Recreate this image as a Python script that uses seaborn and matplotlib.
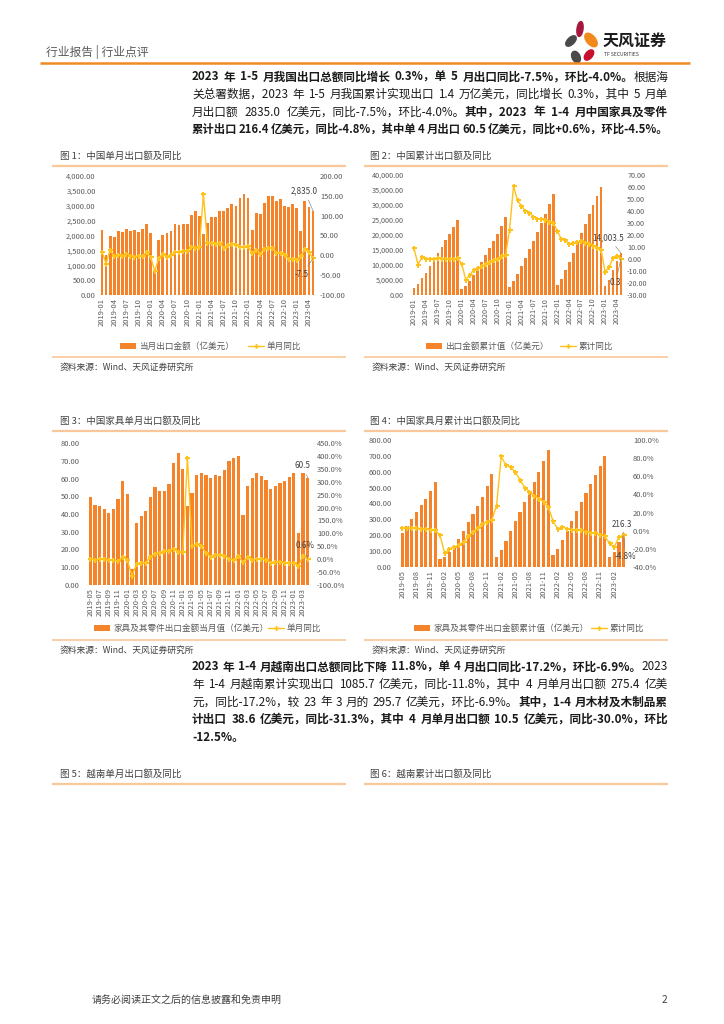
import numpy as np
import pandas as pd
import matplotlib
matplotlib.use("Agg")
import matplotlib.pyplot as plt
import seaborn as sns
from matplotlib.patches import Rectangle, Ellipse

sns.set_style("white")
plt.rcParams['font.family'] = ['Noto Sans CJK SC', 'DejaVu Sans']
plt.rcParams['axes.unicode_minus'] = False

W, H = 724, 1024
BAR = '#F4832A'
LINE = '#FFC21A'
TXT = '#404040'
TICK = '#595959'

# ---------------- data ----------------
cn_months = [f'{y}-{m:02d}' for y in range(2019, 2024) for m in range(1, 13)][:53]

cn_month_export = [2175, 1354, 1986, 1934, 2138, 2128, 2215, 2148, 2181, 2129, 2217, 2376,
                   2083, 809, 1851, 2003, 2068, 2135, 2375, 2353, 2393, 2371, 2680, 2819,
                   2640, 2054, 2410, 2636, 2636, 2814, 2819, 2940, 3057, 3001, 3249, 3404,
                   3260, 2170, 2759, 2736, 3083, 3311, 3329, 3149, 3229, 2983, 2962, 3061,
                   2914, 2149, 3155, 2954, 2835]
cn_month_yoy = [9.1, -20.7, 14.2, -2.7, 1.1, -1.3, 3.3, -1.0, -3.2, -0.9, -1.1, 7.6,
                -4.2, -40.2, -6.6, 3.5, -3.3, 0.5, 7.2, 9.5, 9.9, 11.4, 21.1, 18.1,
                21.4, 154.1, 30.6, 32.3, 27.9, 32.2, 19.3, 25.6, 28.1, 27.1, 22.0, 20.9,
                23.5, 6.2, 14.7, 3.9, 16.9, 17.9, 18.0, 7.1, 5.7, -0.3, -8.7, -9.9,
                -10.6, -1.3, 14.8, 8.5, -7.5]

cn_cum_export = [2175, 3529, 5515, 7449, 9587, 11715, 13930, 16078, 18259, 20388, 22605, 24981,
                 2083, 2892, 4743, 6746, 8814, 10949, 13324, 15677, 18070, 20441, 23121, 25900,
                 2640, 4694, 7104, 9740, 12376, 15190, 18009, 20949, 24006, 27007, 30256, 33660,
                 3260, 5430, 8189, 10925, 14008, 17319, 20648, 23797, 27026, 30009, 32971, 35936,
                 2914, 5063, 8218, 11172, 14003.5]
cn_cum_yoy = [9.1, -4.6, 1.4, 0.2, 0.4, 0.1, 0.6, 0.4, -0.1, -0.2, -0.3, 0.5,
              -4.2, -17.2, -13.4, -9.0, -7.7, -6.2, -4.1, -2.3, -0.8, 0.3, 2.5, 3.6,
              24.2, 60.6, 49.0, 44.0, 40.2, 38.6, 35.2, 33.7, 33.0, 32.3, 31.1, 29.9,
              23.6, 16.4, 15.8, 12.5, 13.2, 14.2, 14.6, 13.5, 12.5, 11.1, 9.0, 7.5,
              -10.6, -6.9, 1.1, 2.5, 0.3]

fur_months = [f'{y}-{m:02d}' for y in range(2019, 2024) for m in range(1, 13)][4:52]

fur_month = [49.5, 45.2, 44.6, 42.9, 40.7, 42.6, 48.6, 58.4,
             51.4, 9.0, 34.7, 39.0, 41.8, 49.5, 55.4, 53.1, 53.1, 56.7, 68.7, 74.6,
             65.5, 44.3, 52.0, 62.1, 62.9, 61.8, 60.3, 62.1, 61.6, 64.6, 70.1, 71.4,
             72.7, 39.4, 55.6, 60.3, 63.3, 61.6, 59.1, 54.2, 55.6, 57.6, 58.8, 60.8,
             62.9, 29.2, 63.3, 60.5]
fur_month_yoy = [2.0, -3.0, 1.0, -1.0, -5.0, -4.0, -8.0, 10.0,
                 -4.0, -64.0, -19.0, -13.0, -14.0, 10.0, 22.0, 25.0, 32.0, 33.0, 41.0, 28.0,
                 27.0, 392.0, 50.0, 59.0, 50.0, 25.0, 9.0, 17.0, 16.0, 14.0, 2.0, -4.0,
                 11.0, -11.0, 7.0, -3.0, 0.6, -0.3, -2.0, -13.0, -10.0, -11.0, -16.0, -15.0,
                 -13.5, -26.0, 14.0, 0.6]

fur_cum = [215, 260, 305, 348, 389, 431, 480, 538,
           51.4, 60.4, 95.1, 134.1, 175.9, 225.4, 280.8, 333.9, 387.0, 443.7, 512.4, 587.0,
           65.5, 109.8, 161.8, 223.9, 286.8, 348.6, 408.9, 471.0, 532.6, 597.2, 667.3, 738.7,
           72.7, 112.1, 167.7, 228.0, 291.3, 352.9, 412.0, 466.2, 521.8, 579.4, 638.2, 699.0,
           62.9, 92.1, 155.4, 216.3]
fur_cum_yoy = [3.0, 3.0, 3.0, 2.5, 2.0, 1.5, 1.0, 0.5,
               -5.0, -25.0, -20.0, -18.0, -16.0, -12.0, -6.0, -1.0, 3.0, 7.0, 10.0, 12.0,
               27.5, 82.0, 72.0, 70.0, 64.6, 56.0, 47.6, 43.0, 38.5, 35.5, 31.8, 26.3,
               10.5, 2.0, 4.0, 2.0, 1.2, 1.2, 0.5, -1.3, -2.0, -3.0, -4.3, -6.0,
               -14.0, -18.0, -7.0, -4.8]

# ---------------- figure ----------------
fig = plt.figure(figsize=(W / 100, H / 100), dpi=100)
page = fig.add_axes([0, 0, 1, 1])
page.set_xlim(0, W)
page.set_ylim(H, 0)
page.axis('off')
renderer = fig.canvas.get_renderer()


def ptext(x, y, s, size=7, color=TXT, weight='normal', ha='left', **kw):
    return page.text(x, y, s, fontsize=size, color=color, fontweight=weight,
                     ha=ha, va='center', **kw)


def hline(x0, x1, y, color, lw):
    page.plot([x0, x1], [y, y], color=color, lw=lw, solid_capstyle='butt')


def para_line(x0, y, runs, size, target=None):
    tokens = []
    sb = False
    for txt, bold in runs:
        parts = txt.split(' ')
        for i, p in enumerate(parts):
            if i > 0:
                sb = True
            if p:
                tokens.append((p, bold, sb))
                sb = False
    for _ in range(3):
        objs = [ptext(x0, y, t, size=size, color='#1a1a1a',
                      weight='bold' if b else 'normal') for t, b, _s in tokens]
        widths = [o.get_window_extent(renderer).width for o in objs]
        size_px = size * 100 / 72
        nsp = sum(1 for t in tokens if t[2])
        if target is not None and sum(widths) + nsp * 0.12 * size_px > target:
            for o in objs:
                o.remove()
            size *= target / (sum(widths) + nsp * 0.12 * size_px) * 0.995
            continue
        break
    if target is not None and nsp > 0:
        gap = (target - sum(widths)) / nsp
        gap = min(gap, 1.5 * size_px)
    else:
        gap = 0.3 * size_px
    x = x0
    for o, w, t in zip(objs, widths, tokens):
        if t[2]:
            x += gap
        o.set_x(x)
        x += w


# ---------------- header ----------------
ptext(46, 52, '行业报告 | 行业点评', size=8.5, color='#595959')
hline(40, 690, 62.5, '#F08A24', 1.8)
for (cx, cy, w, h, ang, col) in [(580, 29, 6, 15, 8, '#A5173C'),
                                  (591, 40, 9, 16, -40, '#F08A1C'),
                                  (571, 41, 7, 13, 45, '#4A4A4A'),
                                  (589, 55, 7, 12, 40, '#C8102E'),
                                  (576, 57, 8, 12, -25, '#4A4A4A')]:
    page.add_patch(Ellipse((cx, cy), w, h, angle=ang, color=col))
ptext(603, 41, '天风证券', size=11.5, color='#1a1a1a', weight='bold')
ptext(604, 55, 'TF SECURITIES', size=3.6, color='#333333')

# ---------------- paragraphs ----------------
PX0, PX1 = 192, 668
para1 = [
    [("2023 年 1-5 月我国出口总额同比增长 0.3%，单 5 月出口同比-7.5%，环比-4.0%。", True), ("根据海", False)],
    [("关总署数据，2023 年 1-5 月我国累计实现出口 1.4 万亿美元，同比增长 0.3%，其中 5 月单", False)],
    [("月出口额 2835.0 亿美元，同比-7.5%，环比-4.0%。", False), ("其中，2023 年 1-4 月中国家具及零件", True)],
    [("累计出口 216.4 亿美元，同比-4.8%，其中单 4 月出口 60.5 亿美元，同比+0.6%，环比-4.5%。", True)],
]
for i, runs in enumerate(para1):
    para_line(PX0, 77 + i * 17.5, runs, 8.4, PX1 - PX0)

para2 = [
    [("2023 年 1-4 月越南出口总额同比下降 11.8%，单 4 月出口同比-17.2%，环比-6.9%。", True), ("2023", False)],
    [("年 1-4 月越南累计实现出口 1085.7 亿美元，同比-11.8%，其中 4 月单月出口额 275.4 亿美", False)],
    [("元，同比-17.2%，较 23 年 3 月的 295.7 亿美元，环比-6.9%。", False), ("其中，1-4 月木材及木制品累", True)],
    [("计出口 38.6 亿美元，同比-31.3%，其中 4 月单月出口额 10.5 亿美元，同比-30.0%，环比", True)],
]
for i, runs in enumerate(para2):
    para_line(PX0, 667 + i * 17.5, runs, 8.4, PX1 - PX0)
para_line(PX0, 667 + 4 * 17.5, [("-12.5%。", True)], 8.4, None)

# ---------------- titles / sources ----------------
TL = '#F9C79A'
titles = [(60, 52, 346, 156, '图 1：中国单月出口额及同比'),
          (370, 364, 668, 156, '图 2：中国累计出口额及同比'),
          (60, 52, 346, 421, '图 3：中国家具单月出口额及同比'),
          (370, 364, 668, 421, '图 4：中国家具月累计出口额及同比'),
          (60, 52, 346, 774, '图 5：越南单月出口额及同比'),
          (370, 364, 668, 774, '图 6：越南累计出口额及同比')]
for tx, l0, l1, ty, s in titles:
    ptext(tx, ty, s, size=6.8, color='#404040')
    hline(l0, l1, ty + 10, TL, 1.6)

for (l0, l1, ly) in [(52, 346, 357), (364, 668, 357), (52, 346, 640), (364, 668, 640)]:
    hline(l0, l1, ly, TL, 1.2)
    ptext(l0 + 8, ly + 10.5, '资料来源：Wind、天风证券研究所', size=6.3, color='#404040')


def legend_bar(x, y, s):
    page.add_patch(Rectangle((x, y - 3), 16, 6, color=BAR, lw=0))
    ptext(x + 19, y, s, size=6.2, color='#595959')


def legend_line(x, y, s):
    page.plot([x, x + 16], [y, y], color=LINE, lw=1.0)
    page.plot([x + 8], [y], marker='P', color=LINE, markersize=3.5, markeredgewidth=0)
    ptext(x + 19, y, s, size=6.2, color='#595959')


legend_bar(120, 346, '当月出口金额（亿美元）')
legend_line(248, 346, '单月同比')
legend_bar(426, 346, '出口金额累计值（亿美元）')
legend_line(560, 346, '累计同比')
legend_bar(94, 628, '家具及其零件出口金额当月值（亿美元）')
legend_line(268, 628, '单月同比')
legend_bar(414, 628, '家具及其零件出口金额累计值（亿美元）')
legend_line(591, 628, '累计同比')

# footer
ptext(92, 1000, '请务必阅读正文之后的信息披露和免责申明', size=7.2, color='#404040')
ptext(662, 1000, '2', size=7.2, color='#404040')


# ---------------- charts ----------------
def chart(box, labels, bars, line, step, lticks, lfmt, rticks, rfmt, lpad, rpad, lsize=5.4):
    x0, y0, x1, y1 = box
    ax = fig.add_axes([x0 / W, 1 - y1 / H, (x1 - x0) / W, (y1 - y0) / H])
    n = len(bars)
    df = pd.DataFrame({'month': labels, 'value': bars})
    sns.barplot(data=df, x='month', y='value', ax=ax, color=BAR, width=0.68,
                saturation=1, edgecolor='none')
    ax.set_ylim(lticks[0], lticks[-1])
    ax.set_yticks(lticks)
    ax.set_yticklabels([lfmt(v) for v in lticks])
    ax.set_xlim(-0.5, n - 0.5)
    ax.set_xticks(range(0, n, step))
    ax.set_xticklabels(labels[::step], rotation=90)
    ax.set_xlabel('')
    ax.set_ylabel('')
    ax2 = ax.twinx()
    sns.lineplot(x=np.arange(n), y=line, ax=ax2, color=LINE, lw=1.0, marker='P',
                 markersize=3.6, markeredgewidth=0)
    ax2.set_ylim(rticks[0], rticks[-1])
    ax2.set_yticks(rticks)
    ax2.set_yticklabels([rfmt(v) for v in rticks])
    ax2.set_xlim(-0.5, n - 0.5)
    for a in (ax, ax2):
        for sp in a.spines.values():
            sp.set_visible(False)
        a.tick_params(length=0, labelsize=lsize, colors=TICK)
        a.set_facecolor('none')
    ax.tick_params(axis='y', pad=lpad)
    ax.tick_params(axis='x', pad=2)
    ax2.tick_params(axis='y', pad=rpad)
    return ax, ax2


ANN = dict(fontsize=5.8, color='#404040', ha='center', va='center', textcoords='offset points',
           arrowprops=dict(arrowstyle='-', color='#808080', lw=0.5, ls=(0, (2, 1)),
                           shrinkA=1, shrinkB=0))

# chart 1
ax, ax2 = chart((100, 176, 315, 295), cn_months, cn_month_export, cn_month_yoy, 3,
                [0, 500, 1000, 1500, 2000, 2500, 3000, 3500, 4000], lambda v: f'{v:,.2f}',
                [-100, -50, 0, 50, 100, 150, 200], lambda v: f'{v:.2f}', 3, 3.5)
n1 = len(cn_month_export)
ax.annotate(f'{cn_month_export[-1]:,.1f}', xy=(n1 - 1, cn_month_export[-1]), xytext=(-6, 14), **ANN)
ax2.annotate(f'{cn_month_yoy[-1]:.1f}', xy=(n1 - 1, cn_month_yoy[-1]), xytext=(-8, -12), **ANN)

# chart 2
ax, ax2 = chart((412, 175, 623, 295), cn_months, cn_cum_export, cn_cum_yoy, 3,
                list(range(0, 40001, 5000)), lambda v: f'{v:,.2f}',
                list(range(-30, 71, 10)), lambda v: f'{v:.2f}', 6, 3, lsize=5.2)
n2 = len(cn_cum_export)
ax.annotate(f'{cn_cum_export[-1]:,.1f}', xy=(n2 - 1, cn_cum_export[-1]), xytext=(-9, 11), **ANN)
ax2.annotate(f'{cn_cum_yoy[-1]:.1f}', xy=(n2 - 1, cn_cum_yoy[-1]), xytext=(-4, -17), **ANN)

# chart 3
ax, ax2 = chart((88, 443, 310, 585), fur_months, fur_month, fur_month_yoy, 2,
                list(range(0, 81, 10)), lambda v: f'{v:.2f}',
                list(range(-100, 451, 50)), lambda v: f'{v:.1f}%', 6, 5)
n3 = len(fur_month)
ax.annotate(f'{fur_month[-1]:.1f}', xy=(n3 - 1, fur_month[-1]), xytext=(-3.5, 8.5), **ANN)
ax2.annotate(f'{fur_month_yoy[-1]:.1f}%', xy=(n3 - 1, fur_month_yoy[-1]), xytext=(-2, 9.5), **ANN)

# chart 4
ax, ax2 = chart((400, 440, 626, 567), fur_months, fur_cum, fur_cum_yoy, 3,
                list(range(0, 801, 100)), lambda v: f'{v:.2f}',
                list(range(-40, 101, 20)), lambda v: f'{v:.1f}%', 6, 5)
n4 = len(fur_cum)
ax.annotate(f'{fur_cum[-1]:.1f}', xy=(n4 - 1, fur_cum[-1]), xytext=(-1.5, 6), **ANN)
ax2.annotate(f'{fur_cum_yoy[-1]:.1f}%', xy=(n4 - 1, fur_cum_yoy[-1]), xytext=(1, -15.5), **ANN)

fig.savefig('out.png', dpi=100)
